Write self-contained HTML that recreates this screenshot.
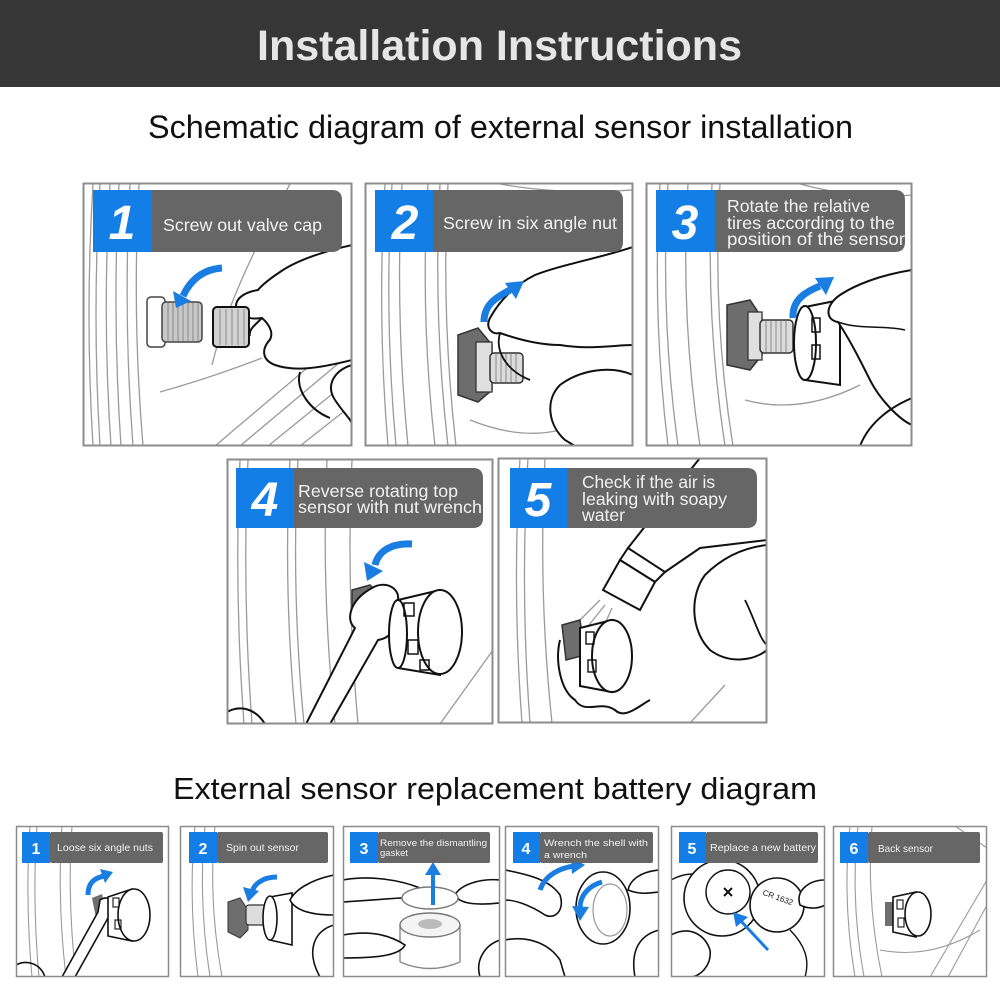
<!DOCTYPE html>
<html><head><meta charset="utf-8"><style>
html,body{margin:0;padding:0;background:#fff;}
svg{display:block}
</style></head><body>
<svg width="1000" height="1000" viewBox="0 0 1000 1000" xmlns="http://www.w3.org/2000/svg" font-family="Liberation Sans, Arial, sans-serif">
<defs>
<clipPath id="c1"><rect x="84" y="184" width="267" height="261"/></clipPath>
<clipPath id="c2"><rect x="366" y="184" width="266" height="261"/></clipPath>
<clipPath id="c3"><rect x="647" y="184" width="264" height="261"/></clipPath>
<clipPath id="c4"><rect x="228" y="460" width="264" height="263"/></clipPath>
<clipPath id="c5"><rect x="499" y="459" width="267" height="263"/></clipPath>
<clipPath id="b1"><rect x="17" y="827" width="151" height="149"/></clipPath>
<clipPath id="b2"><rect x="181" y="827" width="152" height="149"/></clipPath>
<clipPath id="b3"><rect x="344" y="827" width="155" height="149"/></clipPath>
<clipPath id="b4"><rect x="506" y="827" width="152" height="149"/></clipPath>
<clipPath id="b5"><rect x="672" y="827" width="152" height="149"/></clipPath>
<clipPath id="b6"><rect x="834" y="827" width="152" height="149"/></clipPath>
</defs>

<!-- Header -->
<rect x="0" y="0" width="1000" height="87" fill="#363636"/>
<text x="257" y="60" font-size="43" font-weight="bold" fill="#e6e6e6" textLength="485" lengthAdjust="spacingAndGlyphs">Installation Instructions</text>

<text x="148" y="138" font-size="32" fill="#111" textLength="705" lengthAdjust="spacingAndGlyphs">Schematic diagram of external sensor installation</text>
<text x="173" y="799" font-size="31" fill="#111" textLength="644" lengthAdjust="spacingAndGlyphs">External sensor replacement battery diagram</text>

<!-- ============ PANEL 1 ============ -->
<g clip-path="url(#c1)">
<g fill="none" stroke="#9a9a9a" stroke-width="1.3">
<path d="M93 184 Q85 315 93 446"/><path d="M100 184 Q92 315 100 446"/>
<path d="M110 184 Q102 315 111 446"/><path d="M119 184 Q112 315 121 446"/>
<path d="M130 184 Q123 315 133 446"/><path d="M139 184 Q132 315 143 446"/>
<path d="M290 184 Q230 290 212 365"/><path d="M160 392 Q210 378 262 358"/>
<path d="M215 446 L352 330"/><path d="M240 446 L352 352"/><path d="M268 446 L352 378"/><path d="M300 446 L352 405"/>
</g>
<rect x="147" y="297" width="18" height="50" rx="4" fill="#fff" stroke="#444" stroke-width="1.5"/>
<rect x="162" y="302" width="40" height="40" rx="4" fill="#c8c8c8" stroke="#444" stroke-width="1.5"/>
<g stroke="#888" stroke-width="1"><path d="M168 303V341M173 303V341M178 303V341M183 303V341M188 303V341M193 303V341M198 303V341"/></g>
<path d="M352 245 C330 250 300 258 280 272 C268 280 262 285 258 290 C245 292 236 298 236 306 C236 316 250 320 262 318 C270 325 275 335 268 342 C262 350 262 360 275 365 C295 372 320 368 352 360 Z" fill="#fff" stroke="#111" stroke-width="2"/>
<rect x="213" y="307" width="36" height="40" rx="4" fill="#d2d2d2" stroke="#111" stroke-width="2"/>
<g stroke="#888" stroke-width="1"><path d="M220 309V345M226 309V345M232 309V345M238 309V345M244 309V345"/></g>
<path d="M262 318 C255 325 248 330 250 336" fill="none" stroke="#111" stroke-width="2"/>
<path d="M352 365 C335 370 325 385 335 400 C345 415 352 420 352 425" fill="#fff" stroke="#111" stroke-width="2"/>
<path d="M300 372 C295 390 310 410 330 418" fill="none" stroke="#111" stroke-width="2"/>
<path d="M222 268 Q195 270 183 296" fill="none" stroke="#1a7de2" stroke-width="7"/>
<polygon points="176,308 191,301 173,291" fill="#1a7de2"/>
</g>
<rect x="83.5" y="183.5" width="268" height="262" fill="none" stroke="#8c8c8c" stroke-width="2"/>
<rect x="93" y="190" width="59" height="62" fill="#127ee6"/>
<path d="M152 190 H332 Q342 190 342 200 V242 Q342 252 332 252 H152 Z" fill="#666"/>
<text x="122" y="239" font-size="48" font-weight="bold" font-style="italic" fill="#fff" text-anchor="middle">1</text>
<text x="163" y="231" font-size="17.5" fill="#f2f2f2" textLength="159" lengthAdjust="spacingAndGlyphs">Screw out valve cap</text>

<!-- ============ PANEL 2 ============ -->
<g clip-path="url(#c2)">
<g fill="none" stroke="#9a9a9a" stroke-width="1.3">
<path d="M385 184 Q377 315 388 446"/><path d="M392 184 Q384 315 396 446"/>
<path d="M402 184 Q395 315 408 446"/><path d="M428 184 Q420 315 435 446"/>
<path d="M440 184 Q433 315 448 446"/><path d="M448 184 Q441 315 456 446"/>
<path d="M500 184 Q560 195 633 190"/>
<path d="M470 420 Q520 440 560 430"/>
</g>
<polygon points="458,335 478,328 492,345 492,390 478,402 458,395" fill="#6d6d6d" stroke="#333" stroke-width="1.5"/>
<rect x="476" y="342" width="16" height="50" fill="#e0e0e0" stroke="#333" stroke-width="1.3"/>
<rect x="490" y="353" width="33" height="30" rx="4" fill="#dcdcdc" stroke="#333" stroke-width="1.5"/>
<g stroke="#888" stroke-width="1"><path d="M496 354V382M501 354V382M506 354V382M511 354V382M516 354V382"/></g>
<path d="M633 247 C600 258 560 265 535 275 C515 285 500 300 490 318 C485 328 492 335 500 333 C520 340 540 345 560 345 C590 350 615 345 633 345 Z" fill="#fff" stroke="#111" stroke-width="2"/>
<path d="M633 375 C610 365 580 370 560 385 C545 400 548 425 565 440 L575 446 L633 446 Z" fill="#fff" stroke="#111" stroke-width="2"/>
<path d="M500 333 C495 350 505 370 530 380" fill="none" stroke="#111" stroke-width="1.8"/>
<path d="M484 322 C484 305 495 298 510 290" fill="none" stroke="#1a7de2" stroke-width="7"/>
<polygon points="524,281 505,283 516,299" fill="#1a7de2"/>
</g>
<rect x="365.5" y="183.5" width="267" height="262" fill="none" stroke="#8c8c8c" stroke-width="2"/>
<rect x="375" y="190" width="58" height="62" fill="#127ee6"/>
<path d="M433 190 H613 Q623 190 623 200 V242 Q623 252 613 252 H433 Z" fill="#666"/>
<text x="405" y="239" font-size="48" font-weight="bold" font-style="italic" fill="#fff" text-anchor="middle">2</text>
<text x="443" y="229" font-size="17.5" fill="#f2f2f2" textLength="174" lengthAdjust="spacingAndGlyphs">Screw in six angle nut</text>

<!-- ============ PANEL 3 ============ -->
<g clip-path="url(#c3)">
<g fill="none" stroke="#9a9a9a" stroke-width="1.3">
<path d="M660 184 Q652 315 668 446"/><path d="M668 184 Q660 315 678 446"/>
<path d="M688 184 Q680 315 700 446"/><path d="M712 184 Q705 315 725 446"/>
<path d="M720 184 Q712 315 733 446"/>
<path d="M745 400 Q800 415 860 385"/>
<path d="M800 184 Q860 200 912 195"/>
</g>
<polygon points="727,305 750,300 762,318 762,355 750,370 727,365" fill="#6d6d6d" stroke="#333" stroke-width="1.5"/>
<rect x="748" y="312" width="14" height="48" fill="#e0e0e0" stroke="#333" stroke-width="1.3"/>
<rect x="760" y="320" width="33" height="33" rx="4" fill="#dcdcdc" stroke="#333" stroke-width="1.5"/>
<g stroke="#888" stroke-width="1"><path d="M766 321V352M771 321V352M776 321V352M781 321V352M786 321V352"/></g>
<path d="M805 307 L840 300 L840 385 L805 380 Z" fill="#fff" stroke="#111" stroke-width="2"/>
<ellipse cx="805" cy="343" rx="11" ry="37" fill="#fff" stroke="#111" stroke-width="2"/>
<g fill="none" stroke="#111" stroke-width="1.5"><rect x="812" y="318" width="8" height="14"/><rect x="812" y="345" width="8" height="14"/></g>
<path d="M912 270 C880 275 855 285 840 295 C825 305 825 320 838 322 C850 340 860 360 870 380 C880 400 900 420 912 425 Z" fill="#fff" stroke="#111" stroke-width="2"/>
<path d="M860 446 C870 420 895 405 912 398" fill="none" stroke="#111" stroke-width="2"/>
<path d="M838 322 C860 330 885 325 905 330" fill="none" stroke="#111" stroke-width="1.5"/>
<path d="M793 318 C792 300 805 292 820 286" fill="none" stroke="#1a7de2" stroke-width="7"/>
<polygon points="834,277 815,278 826,295" fill="#1a7de2"/>
</g>
<rect x="646.5" y="183.5" width="265" height="262" fill="none" stroke="#8c8c8c" stroke-width="2"/>
<rect x="656" y="190" width="59" height="62" fill="#127ee6"/>
<path d="M715 190 H895 Q905 190 905 200 V242 Q905 252 895 252 H715 Z" fill="#666"/>
<text x="685" y="239" font-size="48" font-weight="bold" font-style="italic" fill="#fff" text-anchor="middle">3</text>
<text x="727" y="212" font-size="17.5" fill="#f2f2f2" textLength="143" lengthAdjust="spacingAndGlyphs">Rotate the relative</text>
<text x="727" y="229" font-size="17.5" fill="#f2f2f2" textLength="168" lengthAdjust="spacingAndGlyphs">tires according to the</text>
<text x="727" y="245" font-size="17.5" fill="#f2f2f2" textLength="178" lengthAdjust="spacingAndGlyphs">position of the sensor</text>

<!-- ============ PANEL 4 ============ -->
<g clip-path="url(#c4)">
<g fill="none" stroke="#9a9a9a" stroke-width="1.3">
<path d="M240 460 Q234 590 244 724"/><path d="M248 460 Q242 590 252 724"/>
<path d="M290 460 Q283 590 296 724"/><path d="M298 460 Q291 590 304 724"/>
<path d="M327 460 Q321 590 335 724"/><path d="M352 460 Q346 590 358 724"/>
<path d="M493 650 L440 724"/>
</g>
<polygon points="352,590 370,585 380,595 380,625 365,630 352,622" fill="#6e6e6e" stroke="#333" stroke-width="1.5"/>
<path d="M372 588 C385 580 400 588 398 600 L392 615 C398 625 392 638 378 640 L330 724 L306 724 L355 628 C345 620 350 600 372 588 Z" fill="#fff" stroke="#111" stroke-width="2"/>
<path d="M398 600 L440 590 L440 675 L398 668 Z" fill="#fff" stroke="#111" stroke-width="2"/>
<ellipse cx="398" cy="634" rx="9" ry="34" fill="#fff" stroke="#111" stroke-width="2"/>
<ellipse cx="440" cy="632" rx="22" ry="42" fill="#fff" stroke="#111" stroke-width="2"/>
<g fill="none" stroke="#111" stroke-width="1.5"><rect x="404" y="603" width="10" height="13"/><rect x="408" y="640" width="10" height="14"/><rect x="420" y="660" width="9" height="10"/></g>
<path d="M227 712 C240 705 255 708 265 724" fill="none" stroke="#111" stroke-width="2"/>
<path d="M412 544 C390 543 378 552 375 565" fill="none" stroke="#1a7de2" stroke-width="7"/>
<polygon points="367,581 383,571 364,562" fill="#1a7de2"/>
</g>
<rect x="227.5" y="459.5" width="265" height="264" fill="none" stroke="#8c8c8c" stroke-width="2"/>
<rect x="236" y="468" width="58" height="60" fill="#127ee6"/>
<path d="M294 468 H473 Q483 468 483 478 V518 Q483 528 473 528 H294 Z" fill="#666"/>
<text x="265" y="516" font-size="48" font-weight="bold" font-style="italic" fill="#fff" text-anchor="middle">4</text>
<text x="298" y="497" font-size="17.5" fill="#f2f2f2" textLength="160" lengthAdjust="spacingAndGlyphs">Reverse rotating top</text>
<text x="298" y="513" font-size="17.5" fill="#f2f2f2" textLength="184" lengthAdjust="spacingAndGlyphs">sensor with nut wrench</text>

<!-- ============ PANEL 5 ============ -->
<g clip-path="url(#c5)">
<g fill="none" stroke="#9a9a9a" stroke-width="1.3">
<path d="M520 458 Q512 590 522 723"/><path d="M528 458 Q520 590 530 723"/>
<path d="M545 458 Q538 590 552 723"/>
<path d="M690 723 L725 685"/>
<path d="M600 600 L575 625"/><path d="M605 605 L585 630"/><path d="M612 608 L600 635"/>
</g>
<path d="M628 548 L650 520 L700 458" fill="none" stroke="#111" stroke-width="2"/>
<path d="M665 572 L700 548 L767 540" fill="none" stroke="#111" stroke-width="2"/>
<polygon points="620,560 628,548 665,572 655,582" fill="#fff" stroke="#111" stroke-width="2"/>
<polygon points="603,590 620,560 655,582 640,610" fill="#fff" stroke="#111" stroke-width="2"/>
<path d="M767 545 C740 548 720 560 705 575 C690 595 690 630 710 650 C730 665 755 660 767 650 Z" fill="#fff" stroke="#111" stroke-width="2"/>
<path d="M745 600 C755 620 760 640 767 645" fill="none" stroke="#111" stroke-width="1.8"/>
<path d="M560 640 C555 660 560 690 575 700 C585 715 600 700 615 710 C625 720 640 705 650 700" fill="none" stroke="#111" stroke-width="2"/>
<polygon points="562,625 580,620 585,655 566,660" fill="#6e6e6e" stroke="#333" stroke-width="1.5"/>
<path d="M580 628 L612 620 L612 692 L580 686 Z" fill="#fff" stroke="#111" stroke-width="2"/>
<ellipse cx="612" cy="656" rx="20" ry="36" fill="#fff" stroke="#111" stroke-width="2"/>
<g fill="none" stroke="#111" stroke-width="1.4"><rect x="586" y="632" width="8" height="12"/><rect x="588" y="660" width="8" height="12"/></g>
</g>
<rect x="498.5" y="458.5" width="268" height="264" fill="none" stroke="#8c8c8c" stroke-width="2"/>
<rect x="510" y="468" width="57" height="60" fill="#127ee6"/>
<path d="M567 468 H747 Q757 468 757 478 V518 Q757 528 747 528 H567 Z" fill="#666"/>
<text x="538" y="516" font-size="48" font-weight="bold" font-style="italic" fill="#fff" text-anchor="middle">5</text>
<text x="582" y="488" font-size="17.5" fill="#f2f2f2" textLength="133" lengthAdjust="spacingAndGlyphs">Check if the air is</text>
<text x="582" y="505" font-size="17.5" fill="#f2f2f2" textLength="145" lengthAdjust="spacingAndGlyphs">leaking with soapy</text>
<text x="582" y="521" font-size="17.5" fill="#f2f2f2" textLength="43" lengthAdjust="spacingAndGlyphs">water</text>

<!-- ============ BOTTOM PANELS ============ -->
<!-- B1 -->
<g clip-path="url(#b1)">
<g fill="none" stroke="#9a9a9a" stroke-width="1.1">
<path d="M30 826 Q25 900 32 977"/><path d="M37 826 Q32 900 39 977"/>
<path d="M62 826 Q57 900 66 977"/><path d="M72 826 Q67 900 76 977"/>
</g>
<polygon points="92,898 102,894 106,912 96,918" fill="#6e6e6e"/>
<path d="M100 900 C108 895 115 900 112 910 L108 918 L75 977 L62 977 L98 912 Z" fill="#fff" stroke="#111" stroke-width="1.6"/>
<path d="M108 897 L132 889 L132 941 L108 936 Z" fill="#fff" stroke="#111" stroke-width="1.6"/>
<ellipse cx="134" cy="915" rx="16" ry="26" fill="#fff" stroke="#111" stroke-width="1.6"/>
<g fill="none" stroke="#111" stroke-width="1.1"><rect x="113" y="898" width="6" height="9"/><rect x="115" y="920" width="6" height="9"/></g>
<path d="M16 965 C25 960 40 962 45 977" fill="none" stroke="#111" stroke-width="1.6"/>
<path d="M88 895 C88 882 95 878 104 876" fill="none" stroke="#1a7de2" stroke-width="5"/>
<polygon points="113,872 100,869 105,883" fill="#1a7de2"/>
</g>
<rect x="16.5" y="826.5" width="152" height="150" fill="none" stroke="#8c8c8c" stroke-width="1.5"/>
<rect x="22" y="832" width="28" height="31" fill="#127ee6"/>
<rect x="50" y="832" width="113" height="31" rx="2" fill="#666"/>
<text x="36" y="854" font-size="16" font-weight="bold" fill="#fff" text-anchor="middle">1</text>
<text x="57" y="851" font-size="10.5" fill="#f2f2f2" textLength="96" lengthAdjust="spacingAndGlyphs">Loose six angle nuts</text>

<!-- B2 -->
<g clip-path="url(#b2)">
<g fill="none" stroke="#9a9a9a" stroke-width="1.1">
<path d="M195 826 Q188 900 198 977"/><path d="M205 826 Q198 900 210 977"/>
<path d="M215 826 Q208 900 222 977"/><path d="M230 826 L320 826"/>
</g>
<polygon points="228,902 240,898 248,910 248,930 240,938 228,932" fill="#6e6e6e" stroke="#333" stroke-width="1"/>
<rect x="246" y="905" width="20" height="20" rx="3" fill="#ddd" stroke="#333" stroke-width="1.2"/>
<path d="M270 897 L292 893 L292 945 L270 940 Z" fill="#fff" stroke="#111" stroke-width="1.6"/>
<ellipse cx="270" cy="918" rx="7" ry="22" fill="#fff" stroke="#111" stroke-width="1.6"/>
<path d="M334 875 C310 880 295 890 290 900 C295 910 310 915 334 915 Z" fill="#fff" stroke="#111" stroke-width="1.6"/>
<path d="M334 925 C315 930 305 950 320 977" fill="none" stroke="#111" stroke-width="1.6"/>
<path d="M277 877 C262 877 253 885 252 893" fill="none" stroke="#1a7de2" stroke-width="5"/>
<polygon points="248,902 243,887 259,891" fill="#1a7de2"/>
</g>
<rect x="180.5" y="826.5" width="153" height="150" fill="none" stroke="#8c8c8c" stroke-width="1.5"/>
<rect x="189" y="832" width="28" height="31" fill="#127ee6"/>
<rect x="217" y="832" width="111" height="31" rx="2" fill="#666"/>
<text x="203" y="854" font-size="16" font-weight="bold" fill="#fff" text-anchor="middle">2</text>
<text x="226" y="851" font-size="10.5" fill="#f2f2f2" textLength="73" lengthAdjust="spacingAndGlyphs">Spin out sensor</text>

<!-- B3 -->
<g clip-path="url(#b3)">
<path d="M343 880 C370 875 400 880 420 888 C425 895 415 900 400 898 L343 902 Z" fill="#fff" stroke="#111" stroke-width="1.6"/>
<path d="M500 880 C480 878 460 885 455 895 C460 905 480 905 500 903 Z" fill="#fff" stroke="#111" stroke-width="1.6"/>
<ellipse cx="430" cy="898" rx="28" ry="11" fill="#fff" stroke="#777" stroke-width="1.4"/>
<path d="M400 925 L400 962 M460 925 L460 962" stroke="#888" stroke-width="1.4"/>
<ellipse cx="430" cy="925" rx="30" ry="12" fill="#f4f4f4" stroke="#777" stroke-width="1.4"/>
<ellipse cx="430" cy="924" rx="12" ry="5" fill="#bbb"/>
<path d="M400 962 Q430 975 460 962" fill="none" stroke="#888" stroke-width="1.4"/>
<path d="M343 935 C370 930 390 935 405 945 C400 955 380 958 343 958" fill="#fff" stroke="#111" stroke-width="1.6"/>
<path d="M500 940 C485 945 475 960 480 977" fill="none" stroke="#111" stroke-width="1.6"/>
<path d="M433 905 L433 872" stroke="#1a7de2" stroke-width="4"/>
<polygon points="433,862 425,875 441,875" fill="#1a7de2"/>
</g>
<rect x="343.5" y="826.5" width="156" height="150" fill="none" stroke="#8c8c8c" stroke-width="1.5"/>
<rect x="350" y="832" width="28" height="31" fill="#127ee6"/>
<rect x="378" y="832" width="112" height="31" rx="2" fill="#666"/>
<text x="364" y="854" font-size="16" font-weight="bold" fill="#fff" text-anchor="middle">3</text>
<text x="380" y="846" font-size="9.5" fill="#f2f2f2" textLength="107" lengthAdjust="spacingAndGlyphs">Remove the dismantling</text>
<text x="380" y="856" font-size="9.5" fill="#f2f2f2" textLength="28" lengthAdjust="spacingAndGlyphs">gasket</text>

<!-- B4 -->
<g clip-path="url(#b4)">
<path d="M505 870 C530 875 550 880 560 895 C565 910 555 920 545 915 C530 905 515 900 505 900 Z" fill="#fff" stroke="#111" stroke-width="1.6"/>
<ellipse cx="603" cy="908" rx="27" ry="36" fill="#fff" stroke="#111" stroke-width="1.6"/>
<ellipse cx="610" cy="910" rx="17" ry="26" fill="none" stroke="#999" stroke-width="1.2"/>
<path d="M659 870 C640 872 630 880 628 890 C640 895 650 893 659 892" fill="#fff" stroke="#111" stroke-width="1.6"/>
<path d="M505 940 C530 935 550 945 560 960 L565 977" fill="none" stroke="#111" stroke-width="1.6"/>
<path d="M659 930 C640 935 630 950 635 977" fill="none" stroke="#111" stroke-width="1.6"/>
<path d="M540 890 C545 875 560 868 574 866" fill="none" stroke="#1a7de2" stroke-width="5"/>
<polygon points="585,865 571,857 572,874" fill="#1a7de2"/>
<path d="M602 882 C588 886 580 896 580 908" fill="none" stroke="#1a7de2" stroke-width="5"/>
<polygon points="580,921 572,906 589,907" fill="#1a7de2"/>
</g>
<rect x="505.5" y="826.5" width="153" height="150" fill="none" stroke="#8c8c8c" stroke-width="1.5"/>
<rect x="513" y="832" width="27" height="31" fill="#127ee6"/>
<rect x="540" y="832" width="113" height="31" rx="2" fill="#666"/>
<text x="526" y="854" font-size="16" font-weight="bold" fill="#fff" text-anchor="middle">4</text>
<text x="544" y="846" font-size="9.5" fill="#f2f2f2" textLength="104" lengthAdjust="spacingAndGlyphs">Wrench the shell with</text>
<text x="544" y="858" font-size="9.5" fill="#f2f2f2" textLength="43" lengthAdjust="spacingAndGlyphs">a wrench</text>

<!-- B5 -->
<g clip-path="url(#b5)">
<path d="M671 880 C690 870 700 875 705 880" fill="none" stroke="#111" stroke-width="1.4"/>
<circle cx="722" cy="898" r="38" fill="#fff" stroke="#111" stroke-width="1.6"/>
<circle cx="728" cy="892" r="22" fill="#fff" stroke="#111" stroke-width="1.4"/>
<path d="M724 888 L732 896 M732 888 L724 896" stroke="#111" stroke-width="2"/>
<circle cx="777" cy="905" r="27" fill="#fff" stroke="#111" stroke-width="1.6"/>
<text x="777" y="900" font-size="8" fill="#111" text-anchor="middle" transform="rotate(20 777 900)">CR 1632</text>
<path d="M825 880 C810 880 795 890 800 905 C810 910 820 908 825 905" fill="#fff" stroke="#111" stroke-width="1.6"/>
<path d="M671 935 C690 925 705 935 710 950 C712 965 700 977 690 977 L671 977 Z" fill="#fff" stroke="#111" stroke-width="1.6"/>
<path d="M790 930 C805 945 810 960 805 977" fill="none" stroke="#111" stroke-width="1.4"/>
<path d="M768 950 L740 920" stroke="#1a7de2" stroke-width="3"/>
<polygon points="733,912 736,927 748,917" fill="#1a7de2"/>
</g>
<rect x="671.5" y="826.5" width="153" height="150" fill="none" stroke="#8c8c8c" stroke-width="1.5"/>
<rect x="679" y="832" width="27" height="31" fill="#127ee6"/>
<rect x="706" y="832" width="112" height="31" rx="2" fill="#666"/>
<text x="692" y="854" font-size="16" font-weight="bold" fill="#fff" text-anchor="middle">5</text>
<text x="710" y="851" font-size="10.5" fill="#f2f2f2" textLength="106" lengthAdjust="spacingAndGlyphs">Replace a new battery</text>

<!-- B6 -->
<g clip-path="url(#b6)">
<g fill="none" stroke="#9a9a9a" stroke-width="1.1">
<path d="M850 826 Q842 900 855 977"/><path d="M858 826 Q850 900 864 977"/>
<path d="M872 826 Q866 900 882 977"/>
<path d="M987 880 L930 977"/><path d="M987 905 L948 977"/><path d="M955 826 L987 848"/>
<path d="M880 950 Q930 960 980 930"/>
</g>
<rect x="885" y="902" width="9" height="24" fill="#6e6e6e"/>
<path d="M893 897 L916 892 L916 937 L893 932 Z" fill="#fff" stroke="#111" stroke-width="1.6"/>
<ellipse cx="918" cy="914" rx="13" ry="22" fill="#fff" stroke="#111" stroke-width="1.6"/>
<g fill="none" stroke="#111" stroke-width="1.1"><rect x="897" y="900" width="6" height="9"/><rect x="898" y="918" width="6" height="9"/></g>
</g>
<rect x="833.5" y="826.5" width="153" height="150" fill="none" stroke="#8c8c8c" stroke-width="1.5"/>
<rect x="840" y="832" width="28" height="31" fill="#127ee6"/>
<rect x="868" y="832" width="112" height="31" rx="2" fill="#666"/>
<text x="854" y="854" font-size="16" font-weight="bold" fill="#fff" text-anchor="middle">6</text>
<text x="878" y="852" font-size="10.5" fill="#f2f2f2" textLength="55" lengthAdjust="spacingAndGlyphs">Back sensor</text>
</svg>
</body></html>
